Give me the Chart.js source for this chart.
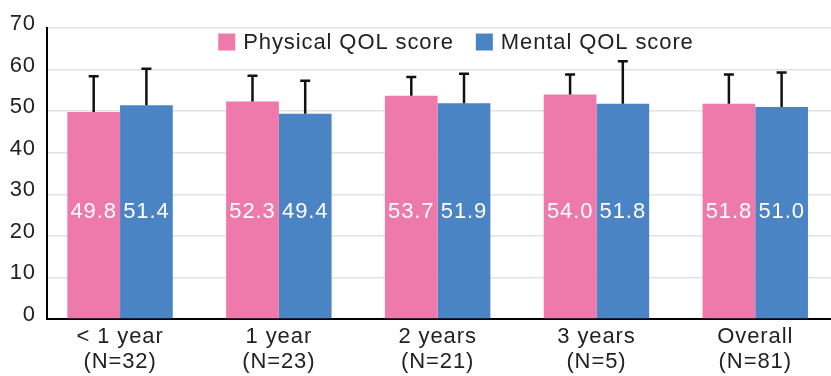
<!DOCTYPE html>
<html>
<head>
<meta charset="utf-8">
<script src="https://cdn.jsdelivr.net/npm/chart.js@4/dist/chart.umd.min.js"></script>
<style>
  html, body { margin: 0; padding: 0; background: #fff; }
  canvas { display: block; }
</style>
</head>
<body>
<canvas id="qol" width="831" height="376"></canvas>
<script>
// Years since diagnosis groups and their sizes
const categories = ['< 1 year', '1 year', '2 years', '3 years', 'Overall'];
const sampleSizes = ['(N=32)', '(N=23)', '(N=21)', '(N=5)', '(N=81)'];

// Mean scores and standard deviations
const physicalMean = [49.8, 52.3, 53.7, 54.0, 51.8];
const physicalSD   = [8.6, 6.2, 4.5, 4.8, 7.0];
const mentalMean   = [51.4, 49.4, 51.9, 51.8, 51.0];
const mentalSD     = [8.8, 7.9, 7.1, 10.2, 8.3];

const FONT = "'Liberation Sans', Arial, sans-serif";
const FONT_SIZE = 22;
const PINK = '#EE7AAC';
const BLUE = '#4A84C5';
const TEXT = '#222222';
const VALUE_LABEL_LEVEL = 25.8;

const toPoints = arr => arr.map((v, i) => ({ x: i, y: v }));

// Slightly open tracking for all canvas text
const tracking = {
  id: 'tracking',
  beforeDraw(chart) { chart.ctx.letterSpacing = '0.9px'; }
};

// One-sided (upper) SD whiskers on every bar
const errorBars = {
  id: 'errorBars',
  afterDatasetsDraw(chart) {
    const { ctx } = chart;
    const y = chart.scales.y;
    ctx.save();
    ctx.strokeStyle = '#111';
    ctx.lineWidth = 2.5;
    chart.data.datasets.forEach((ds, di) => {
      chart.getDatasetMeta(di).data.forEach((bar, i) => {
        const top = y.getPixelForValue(ds.data[i].y + ds.sd[i]);
        ctx.beginPath();
        ctx.moveTo(bar.x, bar.y);
        ctx.lineTo(bar.x, top);
        ctx.moveTo(bar.x - 5, top);
        ctx.lineTo(bar.x + 5, top);
        ctx.stroke();
      });
    });
    ctx.restore();
  }
};

// White mean values written inside the bars
const valueLabels = {
  id: 'valueLabels',
  afterDatasetsDraw(chart) {
    const { ctx } = chart;
    const yPix = chart.scales.y.getPixelForValue(VALUE_LABEL_LEVEL);
    ctx.save();
    ctx.font = `${FONT_SIZE}px ${FONT}`;
    ctx.fillStyle = '#ffffff';
    ctx.textAlign = 'center';
    ctx.textBaseline = 'middle';
    chart.data.datasets.forEach((ds, di) => {
      chart.getDatasetMeta(di).data.forEach((bar, i) => {
        ctx.fillText(ds.data[i].y.toFixed(1), bar.x, yPix);
      });
    });
    ctx.restore();
  }
};

// Legend laid over the top of the plot area
const overlayLegend = {
  id: 'overlayLegend',
  afterDraw(chart) {
    const { ctx, chartArea } = chart;
    ctx.save();
    ctx.font = `${FONT_SIZE}px ${FONT}`;
    const box = 17, gap = 8, itemGap = 22;
    const items = chart.data.datasets.map(ds => ({
      label: ds.label, color: ds.backgroundColor, w: ctx.measureText(ds.label).width
    }));
    const total = items.reduce((s, it) => s + box + gap + it.w, 0) + itemGap * (items.length - 1);
    let x = (chartArea.left + chartArea.right) / 2 + 17 - total / 2;
    const yMid = chartArea.top + 14;
    ctx.textBaseline = 'middle';
    ctx.textAlign = 'left';
    items.forEach(it => {
      ctx.fillStyle = it.color;
      ctx.fillRect(x, yMid - box / 2, box, box);
      ctx.fillStyle = TEXT;
      ctx.fillText(it.label, x + box + gap, yMid + 1);
      x += box + gap + it.w + itemGap;
    });
    ctx.restore();
  }
};

new Chart(document.getElementById('qol'), {
  type: 'bar',
  data: {
    datasets: [
      { label: 'Physical QOL score', data: toPoints(physicalMean), sd: physicalSD,
        backgroundColor: PINK, borderWidth: 0, categoryPercentage: 0.664, barPercentage: 1 },
      { label: 'Mental QOL score', data: toPoints(mentalMean), sd: mentalSD,
        backgroundColor: BLUE, borderWidth: 0, categoryPercentage: 0.664, barPercentage: 1 }
    ]
  },
  options: {
    responsive: false,
    animation: false,
    layout: { padding: { top: 28, right: 0, bottom: 0, left: 0 } },
    plugins: { legend: { display: false }, tooltip: { enabled: false } },
    scales: {
      x: {
        type: 'linear',
        min: -0.46,
        max: 4.477,
        offset: false,
        grid: { display: false, drawTicks: false },
        border: { color: '#000', width: 2 },
        ticks: {
          stepSize: 1,
          includeBounds: false,
          autoSkip: false,
          maxRotation: 0,
          padding: 5,
          color: TEXT,
          font: { family: FONT, size: FONT_SIZE, lineHeight: 1.15 },
          callback: v => (Number.isInteger(v) && categories[v] !== undefined)
            ? [categories[v], sampleSizes[v]] : ''
        },
        afterFit: s => { s.height = 57; }
      },
      y: {
        min: 0,
        max: 70,
        grid: { color: '#e2e2e2', lineWidth: 1.5, drawTicks: false },
        border: { color: '#000', width: 2 },
        ticks: { stepSize: 10, padding: 11, labelOffset: -4, color: TEXT, font: { family: FONT, size: FONT_SIZE } },
        afterFit: s => { s.width = 47; }
      }
    }
  },
  plugins: [tracking, errorBars, valueLabels, overlayLegend]
});
</script>
</body>
</html>
